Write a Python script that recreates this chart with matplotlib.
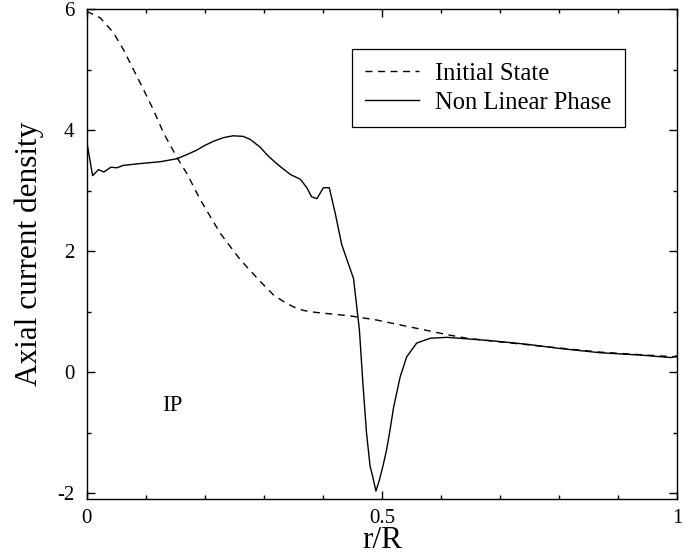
import matplotlib
matplotlib.use("Agg")
import matplotlib.pyplot as plt
from matplotlib.ticker import MultipleLocator, FormatStrFormatter

# Initial State (dashed)
r_init = [0.0, 0.023, 0.045, 0.062, 0.079, 0.096, 0.113, 0.130, 0.153, 0.170,
          0.192, 0.226, 0.260, 0.294, 0.316, 0.333, 0.350, 0.367, 0.386, 0.406,
          0.446, 0.492, 0.531, 0.571, 0.610, 0.644, 0.700, 0.768, 0.870, 0.950, 1.0]
j_init = [5.97, 5.86, 5.62, 5.34, 5.01, 4.68, 4.34, 3.96, 3.55, 3.28,
          2.86, 2.30, 1.86, 1.50, 1.28, 1.17, 1.08, 1.02, 0.99, 0.97,
          0.93, 0.86, 0.78, 0.70, 0.62, 0.56, 0.50, 0.43, 0.33, 0.28, 0.25]

# Non Linear Phase (solid)
r_nl = [0.0, 0.010, 0.020, 0.029, 0.041, 0.051, 0.062, 0.090, 0.124, 0.153,
        0.170, 0.186, 0.200, 0.215, 0.232, 0.248, 0.265, 0.277, 0.294, 0.305,
        0.316, 0.328, 0.345, 0.362, 0.373, 0.381, 0.390, 0.401, 0.411, 0.421,
        0.432, 0.452, 0.462, 0.468, 0.474, 0.480, 0.485, 0.490, 0.496, 0.502,
        0.508, 0.514, 0.520, 0.531, 0.542, 0.559, 0.582, 0.610, 0.644, 0.684,
        0.746, 0.802, 0.870, 0.940, 0.990, 1.0]
j_nl = [3.82, 3.25, 3.35, 3.31, 3.39, 3.38, 3.42, 3.45, 3.48, 3.53,
        3.60, 3.67, 3.75, 3.82, 3.88, 3.91, 3.90, 3.85, 3.72, 3.60,
        3.50, 3.40, 3.27, 3.19, 3.05, 2.90, 2.87, 3.05, 3.05, 2.63,
        2.11, 1.55, 0.70, -0.20, -1.00, -1.55, -1.75, -1.97, -1.78, -1.55,
        -1.29, -0.95, -0.58, -0.08, 0.25, 0.48, 0.56, 0.575, 0.55, 0.52,
        0.46, 0.39, 0.32, 0.28, 0.24, 0.27]

plt.rcParams["font.family"] = ["Liberation Serif", "DejaVu Serif"]

fig = plt.figure(figsize=(6.87, 5.54), dpi=100)
ax = fig.add_axes([0.1262, 0.0993, 0.8592, 0.8836])

ax.plot(r_init, j_init, color="black", lw=1.0, dashes=(5, 4), label="Initial State")
ax.plot(r_nl, j_nl, color="black", lw=1.0, label="Non Linear Phase")

ax.set_xlim(0, 1)
ax.set_ylim(-2.1, 6.0)
ax.xaxis.set_major_locator(MultipleLocator(0.5))
ax.xaxis.set_minor_locator(MultipleLocator(0.1))
ax.yaxis.set_major_locator(MultipleLocator(2))
ax.yaxis.set_minor_locator(MultipleLocator(1))
ax.xaxis.set_major_formatter(FormatStrFormatter("%g"))
ax.yaxis.set_major_formatter(FormatStrFormatter("%g"))
ax.tick_params(which="both", direction="in", top=True, right=True, labelsize=15, pad=9)
ax.tick_params(axis="x", which="major", pad=7.5)
ax.tick_params(which="major", length=5.5, width=1.0)
ax.tick_params(which="minor", length=3, width=1.0)
for s in ax.spines.values():
    s.set_linewidth(1.0)

ax.set_xlabel("r/R", fontsize=22.5)
ax.set_ylabel("Axial current density", fontsize=22.5)
ax.xaxis.set_label_coords(0.5, -0.055)
ax.yaxis.set_label_coords(-0.072, 0.5)

ax.text(0.145, -0.55, "IP", fontsize=16.5, ha="center", va="center")

leg = ax.legend(loc="upper left", bbox_to_anchor=(0.449, 0.919), borderaxespad=0,
                fontsize=17.7, frameon=True, fancybox=False, framealpha=1,
                edgecolor="black", handlelength=2.2, handletextpad=0.65,
                labelspacing=0.28, borderpad=0.55)
leg.get_frame().set_linewidth(0.9)

fig.savefig("out.png", dpi=100)
